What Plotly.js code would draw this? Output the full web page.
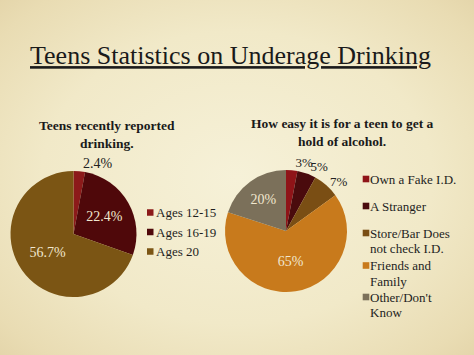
<!DOCTYPE html>
<html>
<head>
<meta charset="utf-8">
<script src="https://cdn.plot.ly/plotly-3.0.1.min.js"></script>
<style>
html,body{margin:0;padding:0;width:474px;height:355px;overflow:hidden;}
body{background:radial-gradient(ellipse 75% 75% at 50% 50%, #f6f1d8 0%, #f1e9c8 55%, #e9dcb3 85%, #e2d2a6 100%);}
#chart{width:474px;height:355px;}
</style>
</head>
<body>
<div id="chart"></div>
<script>
// Chart 1: Teens recently reported drinking
var ageLabels = ['Ages 12-15', 'Ages 16-19', 'Ages 20'];
var ageValues = [2.4, 22.4, 56.7];
var ageColors = ['#8c1a1a', '#4f080a', '#7b5514'];

// Chart 2: How easy it is for a teen to get a hold of alcohol
var srcLabels = ['Own a Fake I.D.', 'A Stranger', 'Store/Bar Does<br>not check I.D.', 'Friends and<br>Family', "Other/Don't<br>Know"];
var srcValues = [3, 5, 7, 65, 20];
var srcColors = ['#8f1418', '#4a0b0d', '#7a4e14', '#c87a1c', '#7b705a'];

var serif = '"Liberation Serif", "DejaVu Serif", serif';
var W = 474, H = 355;

function pct(v){ return v + '%'; }
function py(p){ return 1 - p / H; }
function px(p){ return p / W; }

var dom1 = {x: [px(10.5), px(136.5)], y: [py(297), py(171)]};
var dom2 = {x: [px(225), px(347)], y: [py(292), py(170)]};

var inFont = {family: serif, size: 14, color: '#f1e7cf'};

var base = {type: 'pie', sort: false, direction: 'clockwise', rotation: 0,
  textinfo: 'text', insidetextorientation: 'horizontal', hoverinfo: 'none', showlegend: false};

function pieTrace(labels, values, colors, positions, domain, outSize){
  return Object.assign({}, base, {
    labels: labels, values: values, text: values.map(pct),
    textposition: positions,
    marker: {colors: colors},
    insidetextfont: inFont,
    outsidetextfont: {family: serif, size: outSize, color: '#222'},
    domain: domain
  });
}

var traces = [];
traces.push(pieTrace(ageLabels, ageValues, ageColors, ['outside', 'inside', 'inside'], dom1, 14));
traces.push(pieTrace(srcLabels, srcValues, srcColors, ['none', 'none', 'none', 'inside', 'inside'], dom2, 13));
// transparent overlays: one outside label each, so labels keep their natural spots
[0, 1, 2].forEach(function(k){
  var pos = srcValues.map(function(_, i){ return i === k ? 'outside' : 'none'; });
  var clear = srcValues.map(function(){ return 'rgba(0,0,0,0)'; });
  traces.push(pieTrace(srcLabels, srcValues, clear, pos, dom2, 13));
});

// custom legends (swatch + label lines)
var legend1 = {x: 147, sw: 6.5, textX: 154, rows: [212.5, 232, 251.5], lineGap: 15.5};
var legend2 = {x: 362.7, sw: 6.6, textX: 368, rows: [179, 206, 233, 265.5, 297], lineGap: 15.5};
var legFont = {family: serif, size: 13, color: '#1e1e1e'};

var shapes = [], annotations = [];
function addLegend(L, labels, colors){
  labels.forEach(function(lab, i){
    var cy = L.rows[i];
    shapes.push({type: 'rect', xref: 'paper', yref: 'paper',
      x0: px(L.x), x1: px(L.x + L.sw), y0: py(cy + L.sw/2), y1: py(cy - L.sw/2),
      fillcolor: colors[i], line: {width: 0}});
    lab.split('<br>').forEach(function(line, j){
      annotations.push({text: line, xref: 'paper', yref: 'paper', x: px(L.textX), y: py(cy + j * L.lineGap),
        xanchor: 'left', yanchor: 'middle', align: 'left', showarrow: false, font: legFont});
    });
  });
}
addLegend(legend1, ageLabels, ageColors);
addLegend(legend2, srcLabels, srcColors);

annotations.push(
  {text: '<b>Teens recently reported<br>drinking.</b>', x: px(107), y: py(135), xref: 'paper', yref: 'paper',
   showarrow: false, xanchor: 'center', yanchor: 'middle', align: 'center',
   font: {family: serif, size: 13.5, color: '#1a1a1a'}},
  {text: '<b>How easy it is for a teen to get a<br>hold of alcohol.</b>', x: px(342), y: py(132.5), xref: 'paper', yref: 'paper',
   showarrow: false, xanchor: 'center', yanchor: 'middle', align: 'center',
   font: {family: serif, size: 13.5, color: '#1a1a1a'}}
);

var layout = {
  width: W, height: H,
  margin: {l: 0, r: 0, t: 0, b: 0, autoexpand: false},
  paper_bgcolor: 'rgba(0,0,0,0)',
  plot_bgcolor: 'rgba(0,0,0,0)',
  showlegend: false,
  title: {
    text: '<u>Teens Statistics on Underage Drinking</u>',
    x: px(30), xanchor: 'left', xref: 'paper',
    y: py(55), yanchor: 'middle',
    font: {family: serif, size: 26, color: '#1a1a1a'}
  },
  shapes: shapes,
  annotations: annotations
};

Plotly.newPlot('chart', traces, layout, {staticPlot: true, displayModeBar: false});
</script>
</body>
</html>
